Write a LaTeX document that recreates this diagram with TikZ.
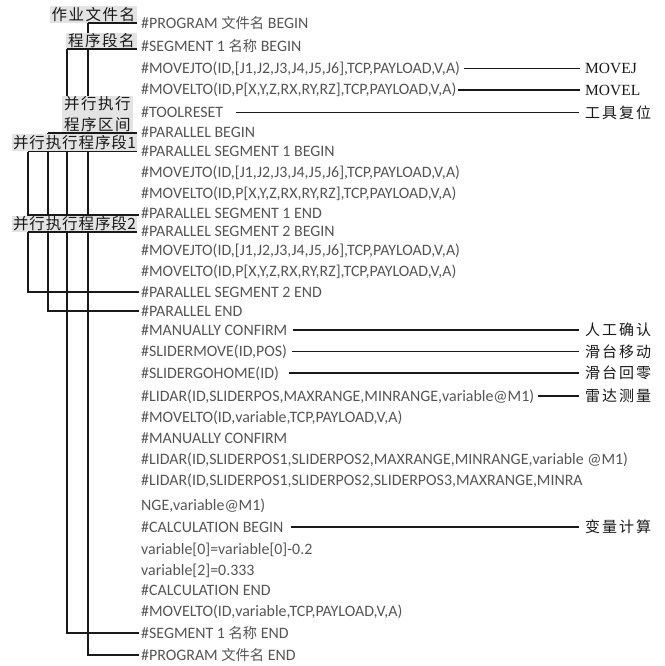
\documentclass[tikz,border=0pt]{standalone}
\usepackage{fontspec}
\setmainfont{Carlito}
\newfontfamily\cjk{Noto Sans CJK SC}
\newfontfamily\serifl{Liberation Serif}
\definecolor{codegray}{HTML}{555555}
\definecolor{labgray}{HTML}{E3E3E3}
\newcommand\zc[1]{\makebox[17pt]{#1}}
\newcommand\zcw[1]{\makebox[16.4pt]{#1}}
\newcommand\zhc[1]{{\cjk\fontsize{14.3}{14.3}\selectfont #1}}
\begin{document}
\begin{tikzpicture}[x=1pt,y=-1pt,
  code/.style={anchor=west, inner sep=0pt, text height=10pt, text depth=0pt,
    font=\fontsize{15.9}{15.9}\selectfont, text=codegray},
  lab/.style={fill=labgray, inner sep=0pt, anchor=south east, align=center,
    font=\cjk\fontsize{15.5}{21}\selectfont, text=black!90},
  rlab/.style={anchor=west, inner sep=0pt, font=\cjk\fontsize{15}{15}\selectfont, text=black!90},
  rlat/.style={anchor=west, inner sep=0pt, font=\serifl\fontsize{15.5}{15.5}\selectfont, text=black!90},
  conn/.style={line width=1.25pt, black!90}]
\useasboundingbox (0,0) rectangle (664,666);

% code lines
\node[code] (c1)  at (141,24)   {\#PROGRAM \zhc{文件名} BEGIN};
\node[code] (c2)  at (141,46.5) {\#SEGMENT 1 \zhc{名称} BEGIN};
\node[code] (c3)  at (141,68.5) {\#MOVEJTO(ID,[J1,J2,J3,J4,J5,J6],TCP,PAYLOAD,V,A)};
\node[code] (c4)  at (141,90)   {\#MOVELTO(ID,P[X,Y,Z,RX,RY,RZ],TCP,PAYLOAD,V,A)};
\node[code] (c5)  at (141,112.5){\#TOOLRESET};
\node[code] (c6)  at (141,132.5){\#PARALLEL BEGIN};
\node[code] (c7)  at (141,151.5){\#PARALLEL SEGMENT 1 BEGIN};
\node[code] (c8)  at (141,172.5){\#MOVEJTO(ID,[J1,J2,J3,J4,J5,J6],TCP,PAYLOAD,V,A)};
\node[code] (c9)  at (141,193.5){\#MOVELTO(ID,P[X,Y,Z,RX,RY,RZ],TCP,PAYLOAD,V,A)};
\node[code] (c10) at (141,213)  {\#PARALLEL SEGMENT 1 END};
\node[code] (c11) at (141,231)  {\#PARALLEL SEGMENT 2 BEGIN};
\node[code] (c12) at (141,250)  {\#MOVEJTO(ID,[J1,J2,J3,J4,J5,J6],TCP,PAYLOAD,V,A)};
\node[code] (c13) at (141,271)  {\#MOVELTO(ID,P[X,Y,Z,RX,RY,RZ],TCP,PAYLOAD,V,A)};
\node[code] (c14) at (141,292)  {\#PARALLEL SEGMENT 2 END};
\node[code] (c15) at (141,311)  {\#PARALLEL END};
\node[code] (c16) at (141,330)  {\#MANUALLY CONFIRM};
\node[code] (c17) at (141,351.5){\#SLIDERMOVE(ID,POS)};
\node[code] (c18) at (141,373)  {\#SLIDERGOHOME(ID)};
\node[code] (c19) at (141,396)  {\#LIDAR(ID,SLIDERPOS,MAXRANGE,MINRANGE,variable@M1)};
\node[code] (c20) at (141,417)  {\#MOVELTO(ID,variable,TCP,PAYLOAD,V,A)};
\node[code] (c21) at (141,438)  {\#MANUALLY CONFIRM};
\node[code] (c22) at (141,459)  {\#LIDAR(ID,SLIDERPOS1,SLIDERPOS2,MAXRANGE,MINRANGE,variable @M1)};
\node[code] (c23) at (141,480)  {\#LIDAR(ID,SLIDERPOS1,SLIDERPOS2,SLIDERPOS3,MAXRANGE,MINRA};
\node[code] (c24) at (141,505)  {NGE,variable@M1)};
\node[code] (c25) at (141,527)  {\#CALCULATION BEGIN};
\node[code] (c26) at (141,549)  {variable[0]=variable[0]-0.2};
\node[code] (c27) at (141,570)  {variable[2]=0.333};
\node[code] (c28) at (141,590)  {\#CALCULATION END};
\node[code] (c29) at (141,611)  {\#MOVELTO(ID,variable,TCP,PAYLOAD,V,A)};
\node[code] (c30) at (141,633)  {\#SEGMENT 1 \zhc{名称} END};
\node[code] (c31) at (141,655)  {\#PROGRAM \zhc{文件名} END};

% bracket tops
\coordinate (vP) at (88,23);
\coordinate (vS) at (67,49);
\coordinate (vR) at (48,133);
\coordinate (v1) at (28,151.5);
\coordinate (v2) at (28,232);

% brackets (drawn below the label boxes)
\draw[conn] (vP) |- ([xshift=-2]c31.west);
\draw[conn] (vS) |- ([xshift=-2]c30.west);
\draw[conn] (vR) |- ([xshift=-2]c15.west);
\draw[conn] (v1) |- ([xshift=-2,yshift=-2]c10.west);
\draw[conn] (v2) |- ([xshift=-2]c14.west);

% left labels
\node[lab, minimum width=87, minimum height=17] (prog) at (137,23) {\zc{作}\zc{业}\zc{文}\zc{件}\zc{名}};
\node[lab, minimum width=71, minimum height=16] (seg) at (137,49) {\zc{程}\zc{序}\zc{段}\zc{名}};
\node[lab, minimum width=71, minimum height=37] (par) at (133,133) {\zc{并}\zc{行}\zc{执}\zc{行}\\\zc{程}\zc{序}\zc{区}\zc{间}};
\node[lab, minimum width=125, minimum height=17] (ps1) at (137,151.5) {\zcw{并}\zcw{行}\zcw{执}\zcw{行}\zcw{程}\zcw{序}\zcw{段}1};
\node[lab, minimum width=125, minimum height=16] (ps2) at (137,232) {\zcw{并}\zcw{行}\zcw{执}\zcw{行}\zcw{程}\zcw{序}\zcw{段}2};

% underlines of labels
\draw[conn] (prog.south east) -- (vP);
\draw[conn] (seg.south east) -- (vS);
\draw[conn] ([xshift=4]par.south east) -- (vR);
\draw[conn] (ps1.south east) -- (v1);
\draw[conn] (ps2.south east) -- (v2);

% right labels
\node[rlat] (r3)  at (585,68.5)  {MOVEJ};
\node[rlat] (r4)  at (585,90)    {MOVEL};
\node[rlab] (r5)  at (584,112.5) {\zc{工}\zc{具}\zc{复}\zc{位}};
\node[rlab] (r16) at (584,330)   {\zc{人}\zc{工}\zc{确}\zc{认}};
\node[rlab] (r17) at (584,351.5) {\zc{滑}\zc{台}\zc{移}\zc{动}};
\node[rlab] (r18) at (584,373)   {\zc{滑}\zc{台}\zc{回}\zc{零}};
\node[rlab] (r19) at (584,396)   {\zc{雷}\zc{达}\zc{测}\zc{量}};
\node[rlab] (r25) at (584,527)   {\zc{变}\zc{量}\zc{计}\zc{算}};

% right connectors
\draw[conn] ([xshift=4]c3.east)   -- ([xshift=-5]r3.west);
\draw[conn] ([xshift=1]c4.east)   -- ([xshift=-5]r4.west);
\draw[conn] ([xshift=13]c5.east)  -- ([xshift=-5]r5.west);
\draw[conn] ([xshift=5]c16.east)  -- ([xshift=-5]r16.west);
\draw[conn] ([xshift=5]c17.east)  -- ([xshift=-5]r17.west);
\draw[conn] ([xshift=10]c18.east) -- ([xshift=-5]r18.west);
\draw[conn] ([xshift=4]c19.east)  -- ([xshift=-5]r19.west);
\draw[conn] ([xshift=7]c25.east)  -- ([xshift=-5]r25.west);
\end{tikzpicture}
\end{document}
